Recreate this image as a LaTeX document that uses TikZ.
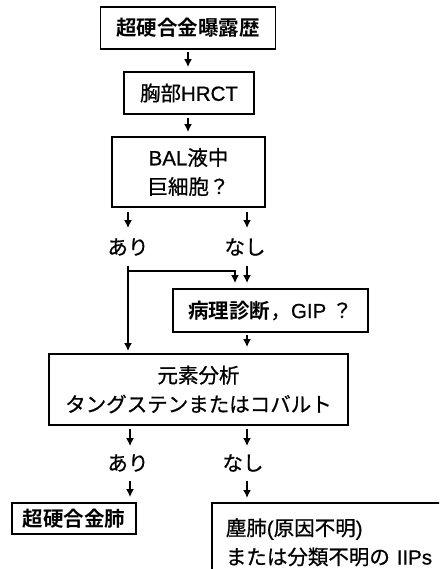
\documentclass[tikz,border=0pt]{standalone}
\usepackage{fontspec}
\setmainfont{Liberation Sans}[FakeBold=0.7]
\newfontfamily\jp{Noto Sans CJK JP}[FakeBold=0.7]
\newfontfamily\jpb{Noto Sans CJK JP Bold}
\usetikzlibrary{arrows.meta}
\begin{document}
\begin{tikzpicture}[x=1pt,y=-1pt,
  font=\fontsize{20.5}{29}\selectfont,
  box/.style={draw,line width=1.8pt,inner sep=0pt,align=center},
  lbl/.style={inner sep=0pt},
  arr/.style={line width=1.7pt,-{Latex[length=8pt,width=8pt]}},
  ln/.style={line width=1.7pt}]
\useasboundingbox (0,0) rectangle (439,569);
\clip (0,0) rectangle (439,569);
\node[box,minimum width=175pt,minimum height=42pt] (b1) at (188,28) {\jpb 超硬合金曝露歴};
\node[box,minimum width=130pt,minimum height=42pt] (b2) at (189,93) {{\jp 胸部}HRCT};
\node[box,minimum width=153pt,minimum height=70pt] (b3) at (188.5,172) {BAL{\jp 液中}\\{\jp 巨細胞？}};
\node[lbl] (ari1) at (128,247) {\jp あり};
\node[lbl] (nashi1) at (245,247) {\jp なし};
\node[box,minimum width=195pt,minimum height=43pt] (b4) at (270.5,310.5) {{\jpb 病理診断}{\jp ，}GIP {\jp ？}};
\node[box,minimum width=299pt,minimum height=71pt] (b5) at (198.5,389.5) {{\jp 元素分析}\\{\jp タングステンまたはコバルト}};
\node[lbl] (ari2) at (128,463) {\jp あり};
\node[lbl] (nashi2) at (243,463) {\jp なし};
\node[box,minimum width=124pt,minimum height=31pt] (b6) at (74,518.5) {\jpb 超硬合金肺};
\node[box,anchor=north west,minimum width=260pt,minimum height=100pt,align=left,text width=232pt,inner xsep=14pt,inner ysep=0pt,text depth=52pt] (b7) at (211,502) {{\jp 塵肺}({\jp 原因不明})\\{\jp または分類不明の} IIPs};
% arrows
\draw[arr,shorten <=2pt,shorten >=4pt] (b1.south) -- (b1.south |- b2.north);
\draw[arr,shorten <=3pt,shorten >=4pt] (b1.south |- b2.south) -- (b1.south |- b3.north);
\coordinate (x1) at (128,0);
\coordinate (x2) at (247,0);
\draw[arr,shorten <=4pt] (x1 |- b3.south) -- ([yshift=10pt]x1 |- ari1.north);
\draw[arr,shorten <=4pt] (x2 |- b3.south) -- ([yshift=10pt]x2 |- nashi1.north);
\draw[arr,shorten >=2pt] ([yshift=-10pt]x1 |- ari1.south) -- (x1 |- b5.north);
\coordinate (x3) at (235,0);
\draw[ln] ([yshift=-15pt]x1 |- ari1.south) -| ([yshift=13pt]x3 |- b4.north);
\draw[arr,shorten >=5pt] ([yshift=-14pt]x3 |- ari1.south) -- (x3 |- b4.north);
\draw[arr,shorten >=5pt] ([yshift=-10pt]x2 |- nashi1.south) -- (x2 |- b4.north);
\draw[arr,shorten <=2pt,shorten >=6pt] (x2 |- b4.south) -- (x2 |- b5.north);
\coordinate (x4) at (130,0);
\draw[arr,shorten <=3pt] (x4 |- b5.south) -- ([yshift=8pt]x4 |- ari2.north);
\draw[arr,shorten <=3pt] (x2 |- b5.south) -- ([yshift=8pt]x2 |- nashi2.north);
\draw[arr,shorten >=5pt] ([yshift=-9pt]x4 |- ari2.south) -- (x4 |- b6.north);
\draw[arr,shorten >=4pt] ([yshift=-9pt]x2 |- nashi2.south) -- (x2 |- b7.north);
\end{tikzpicture}
\end{document}
